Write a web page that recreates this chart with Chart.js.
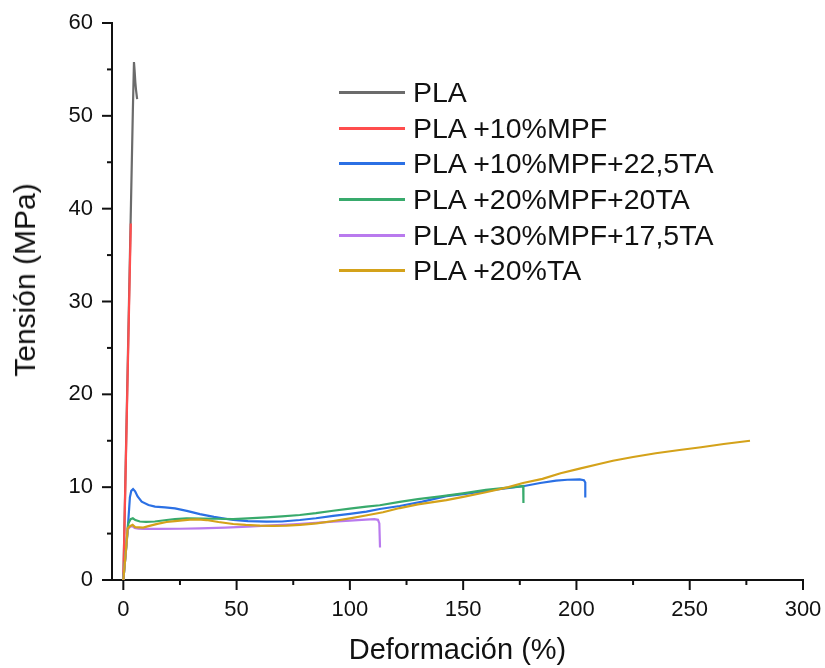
<!DOCTYPE html>
<html lang="es">
<head>
<meta charset="utf-8">
<title>Tensión vs Deformación</title>
<script src="https://cdn.jsdelivr.net/npm/chart.js@4.4.1/dist/chart.umd.min.js"></script>
<style>
    html, body { margin: 0; padding: 0; background: #ffffff; }
    #wrap { position: relative; width: 825px; height: 668px; }
    #legend {
        position: absolute;
        left: 339px;
        top: 74.5px;
        font-family: 'Liberation Sans', Arial, sans-serif;
        font-size: 28.5px;
        color: #111111;
    }
    .item { display: flex; align-items: center; height: 35.7px; white-space: nowrap; }
    .swatch { width: 66px; height: 3px; margin-right: 8px; }
    #yTitle {
        position: absolute;
        left: 25px;
        top: 280px;
        transform: translate(-50%, -50%) rotate(-90deg);
        font-family: 'Liberation Sans', Arial, sans-serif;
        font-size: 30px;
        line-height: 1.2;
        color: #111111;
        white-space: nowrap;
    }
</style>
</head>
<body>
<div id="wrap">
    <canvas id="stressChart" width="825" height="668"></canvas>
    <div id="yTitle">Tensión (MPa)</div>
    <div id="legend"></div>
</div>
<script>
// Series labels and colours
const seriesLabels = [
    'PLA',
    'PLA +10%MPF',
    'PLA +10%MPF+22,5TA',
    'PLA +20%MPF+20TA',
    'PLA +30%MPF+17,5TA',
    'PLA +20%TA'
];
const seriesColors = ['#6b6b6b', '#ff4d4d', '#2b70e4', '#38aa6c', '#b97aee', '#d4a21a'];

// Axis ticks
const xTicks = [0, 50, 100, 150, 200, 250, 300];
const yTicks = [0, 10, 20, 30, 40, 50, 60];

// PLA
const plaX = [0, 3.2, 4.2, 4.7, 5.0, 5.3, 5.6, 6.1];
const plaY = [0, 38.4, 50.5, 55.8, 54.8, 53.6, 52.8, 51.8];

// PLA +10%MPF
const mpf10X = [0, 1.1, 2.2, 3.3];
const mpf10Y = [0, 12.6, 25.5, 38.4];

// PLA +10%MPF+22,5TA
const mpf10ta22X = [0, 1, 2.2, 2.9, 3.5, 4.3, 5.2, 6.3, 8.1, 11.1, 14, 18.4, 22.8, 28, 33.8, 40, 48.5, 55, 63.2, 70, 77.9, 85, 92.6, 100, 107.3, 113.2, 122, 132, 142.6, 150, 157.3, 165, 176.4, 184, 191, 196, 201.4, 203.3, 203.9, 203.9];
const mpf10ta22Y = [0, 2.8, 6.4, 8.9, 9.6, 9.8, 9.55, 9.0, 8.43, 8.07, 7.9, 7.82, 7.71, 7.45, 7.1, 6.8, 6.46, 6.35, 6.28, 6.3, 6.46, 6.65, 6.9, 7.12, 7.36, 7.65, 7.97, 8.45, 9.04, 9.25, 9.5, 9.75, 10.1, 10.45, 10.7, 10.8, 10.83, 10.75, 10.5, 8.9];

// PLA +20%MPF+20TA
const mpf20ta20X = [0, 1, 2.2, 3.2, 4.2, 5.3, 7.3, 10, 13.9, 19.1, 22.8, 27.9, 35, 41.2, 48.5, 55, 63.2, 70, 77.9, 85, 92.6, 100, 107.3, 113.2, 122, 130, 140, 149.9, 160, 171.9, 176.5, 176.6];
const mpf20ta20Y = [0, 2.7, 6.1, 6.55, 6.65, 6.45, 6.3, 6.27, 6.3, 6.46, 6.55, 6.64, 6.62, 6.6, 6.55, 6.63, 6.75, 6.85, 7.0, 7.2, 7.46, 7.68, 7.9, 8.05, 8.42, 8.72, 9.0, 9.33, 9.7, 10.0, 10.12, 8.3];

// PLA +30%MPF+17,5TA
const mpf30ta17X = [0, 1, 1.9, 3, 4, 5, 6.7, 8.8, 15, 25, 33.8, 45, 55, 63.2, 75, 85, 92.6, 100, 107, 110.8, 112.4, 113, 113.3];
const mpf30ta17Y = [0, 2.7, 5.4, 5.75, 5.8, 5.6, 5.53, 5.5, 5.5, 5.52, 5.56, 5.65, 5.75, 5.85, 6.0, 6.15, 6.28, 6.4, 6.5, 6.55, 6.48, 6.1, 3.5];

// PLA +20%TA
const ta20X = [0, 1, 1.9, 2.95, 4.1, 5.2, 8.8, 11.1, 15, 19.1, 22.8, 29.4, 33, 36.7, 42, 48.5, 54, 60.3, 66, 72, 78, 85.3, 92, 100, 107, 114.6, 122, 130, 142.6, 150, 160, 170, 176.4, 185, 193, 201.4, 210, 216.1, 225, 235, 245.5, 255, 265, 276.6];
const ta20Y = [0, 2.7, 5.56, 5.8, 5.95, 5.7, 5.65, 5.8, 6.05, 6.25, 6.35, 6.5, 6.52, 6.46, 6.25, 6.03, 5.93, 5.85, 5.83, 5.85, 5.93, 6.1, 6.33, 6.64, 6.95, 7.3, 7.75, 8.15, 8.61, 8.95, 9.45, 10.0, 10.45, 10.9, 11.5, 12.0, 12.5, 12.85, 13.25, 13.65, 14.0, 14.3, 14.65, 15.0];

const seriesX = [plaX, mpf10X, mpf10ta22X, mpf20ta20X, mpf30ta17X, ta20X];
const seriesY = [plaY, mpf10Y, mpf10ta22Y, mpf20ta20Y, mpf30ta17Y, ta20Y];

const FONT = "'Liberation Sans', Arial, sans-serif";
const TEXT_COLOR = '#111111';
const AXIS_COLOR = '#111111';

// Major / minor tick marks drawn outward, like the original plot
const axisTicks = {
    id: 'axisTicks',
    afterDraw(chart) {
        const ctx = chart.ctx;
        const area = chart.chartArea;
        ctx.save();
        ctx.strokeStyle = AXIS_COLOR;
        ctx.lineWidth = 2;
        ['x', 'y'].forEach(id => {
            const scale = chart.scales[id];
            const vals = scale.ticks.map(t => t.value);
            vals.forEach((v, i) => {
                const marks = [[v, 10]];
                if (i < vals.length - 1) marks.push([(v + vals[i + 1]) / 2, 5]);
                marks.forEach(([val, len]) => {
                    const p = scale.getPixelForValue(val);
                    ctx.beginPath();
                    if (id === 'x') {
                        ctx.moveTo(p, area.bottom);
                        ctx.lineTo(p, area.bottom + len);
                    } else {
                        ctx.moveTo(area.left, p);
                        ctx.lineTo(area.left - len, p);
                    }
                    ctx.stroke();
                });
            });
        });
        ctx.restore();
    }
};

const datasets = seriesLabels.map((label, i) => ({
    label: label,
    data: seriesX[i].map((x, j) => ({ x: x, y: seriesY[i][j] })),
    borderColor: seriesColors[i],
    backgroundColor: seriesColors[i],
    borderWidth: 2.2,
    pointRadius: 0,
    showLine: true,
    tension: 0,
    // later series drawn on top
    order: seriesLabels.length - 1 - i
}));

const chart = new Chart(document.getElementById('stressChart'), {
    type: 'scatter',
    data: { datasets: datasets },
    options: {
        responsive: false,
        animation: false,
        layout: { padding: { top: 23, right: 22, left: 0, bottom: 0 } },
        plugins: {
            legend: { display: false },
            tooltip: { enabled: false }
        },
        scales: {
            x: {
                type: 'linear',
                min: -5,
                max: 300,
                afterBuildTicks: s => { s.ticks = xTicks.map(v => ({ value: v })); },
                afterFit: s => {
                    s.height = 88;
                    s.paddingLeft = 0;
                    s.paddingRight = 0;
                },
                ticks: {
                    font: { family: FONT, size: 22 },
                    color: TEXT_COLOR,
                    padding: 17,
                    maxRotation: 0
                },
                grid: { drawOnChartArea: false, drawTicks: false },
                border: { color: AXIS_COLOR, width: 2 },
                title: {
                    display: true,
                    text: 'Deformación (%)',
                    font: { family: FONT, size: 29 },
                    color: TEXT_COLOR,
                    padding: { top: 0, bottom: 0 }
                }
            },
            y: {
                type: 'linear',
                min: 0,
                max: 60,
                afterBuildTicks: s => { s.ticks = yTicks.map(v => ({ value: v })); },
                afterFit: s => {
                    s.width = 112;
                    s.paddingTop = 0;
                    s.paddingBottom = 0;
                },
                ticks: {
                    font: { family: FONT, size: 22 },
                    color: TEXT_COLOR,
                    padding: 19
                },
                grid: { drawOnChartArea: false, drawTicks: false },
                border: { color: AXIS_COLOR, width: 2 },
                // axis title is the rotated #yTitle element (sits above centre in the original)
                title: { display: false }
            }
        }
    },
    plugins: [axisTicks]
});

// HTML legend built from the datasets
const legendEl = document.getElementById('legend');
chart.data.datasets.forEach(ds => {
    const item = document.createElement('div');
    item.className = 'item';
    const swatch = document.createElement('span');
    swatch.className = 'swatch';
    swatch.style.background = ds.borderColor;
    const text = document.createElement('span');
    text.textContent = ds.label;
    item.appendChild(swatch);
    item.appendChild(text);
    legendEl.appendChild(item);
});
</script>
</body>
</html>
